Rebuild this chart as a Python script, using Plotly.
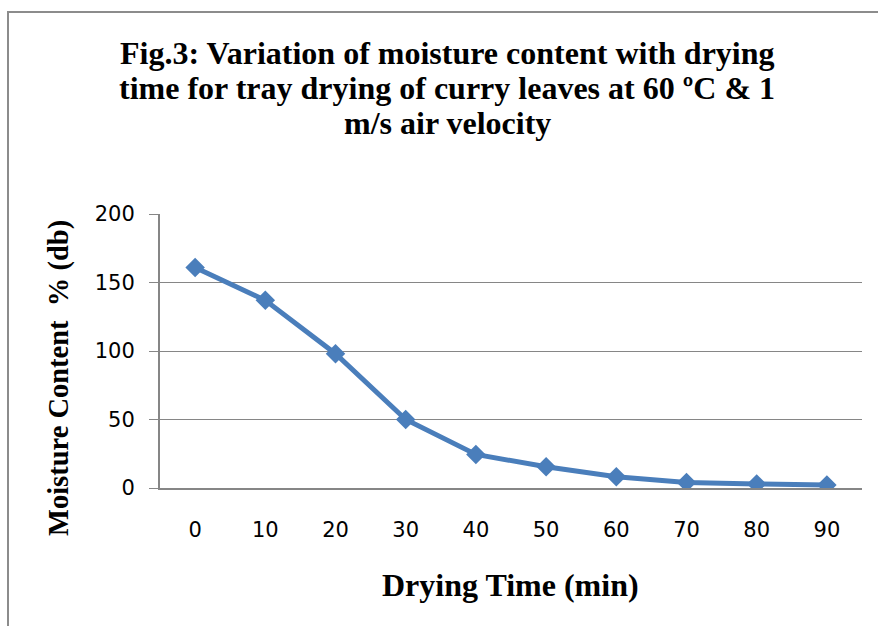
import plotly.graph_objects as go

# Data
drying_time = [0, 10, 20, 30, 40, 50, 60, 70, 80, 90]
moisture_content = [161, 137, 98, 50, 24.5, 15.5, 8.2, 4.0, 2.9, 2.2]
x_tick_labels = ["0", "10", "20", "30", "40", "50", "60", "70", "80", "90"]
y_tick_vals = [0, 50, 100, 150, 200]

title_lines = [
    "Fig.3: Variation of moisture content with drying",
    "time for tray drying of curry leaves at 60 ºC &amp; 1",
    "m/s air velocity",
]
x_title = "Drying Time (min)"
y_title = "Moisture Content  % (db)"

W, H = 878, 626
L, R, T, B = 160, 16, 214, 138
pw, ph = W - L - R, H - T - B

def px_x(p):
    return (p - L) / pw

def px_y(p):
    return (H - B - p) / ph

blue = "#4A7EBB"
gray = "#868686"

fig = go.Figure()
fig.add_trace(go.Scatter(
    x=drying_time, y=moisture_content, mode="lines+markers",
    line=dict(color=blue, width=5),
    marker=dict(symbol="diamond", size=15, color=blue),
    showlegend=False, hoverinfo="skip",
))

serif = "Liberation Serif, Times New Roman, serif"
sans = "DejaVu Sans, Verdana, sans-serif"

title_centers = [53, 88, 123]
annotations = []
for line, cy in zip(title_lines, title_centers):
    annotations.append(dict(
        text="<b>" + line + "</b>", x=px_x(447), y=px_y(cy),
        xref="paper", yref="paper", xanchor="center", yanchor="middle",
        showarrow=False, font=dict(family=serif, size=32, color="#000000")))
annotations.append(dict(
    text="<b>" + x_title + "</b>", x=px_x(510), y=px_y(585),
    xref="paper", yref="paper", xanchor="center", yanchor="middle",
    showarrow=False, font=dict(family=serif, size=32, color="#000000")))
annotations.append(dict(
    text="<b>" + y_title + "</b>", x=px_x(59), y=px_y(378),
    xref="paper", yref="paper", xanchor="center", yanchor="middle",
    textangle=-90,
    showarrow=False, font=dict(family=serif, size=28.5, color="#000000")))

fig.update_layout(
    width=W, height=H,
    margin=dict(l=L, r=R, t=T, b=B, pad=0),
    paper_bgcolor="white", plot_bgcolor="white",
    xaxis=dict(
        range=[-5, 95], tickvals=drying_time, ticktext=x_tick_labels,
        showgrid=False, zeroline=False, showline=True, linecolor=gray, linewidth=2,
        ticks="", ticklabelstandoff=22,
        tickfont=dict(family=sans, size=21, color="#000000"),
        fixedrange=True,
    ),
    yaxis=dict(
        range=[0, 200], tickvals=y_tick_vals,
        showgrid=True, gridcolor=gray, gridwidth=1,
        zeroline=False, showline=True, linecolor=gray, linewidth=2,
        ticks="outside", ticklen=9, tickcolor=gray, tickwidth=1,
        ticklabelstandoff=10,
        tickfont=dict(family=sans, size=21, color="#000000"),
        fixedrange=True,
    ),
    annotations=annotations,
    shapes=[
        dict(type="rect", xref="paper", yref="paper",
             x0=px_x(8), x1=px_x(890), y0=px_y(640), y1=px_y(12),
             line=dict(color="#8C8C8C", width=2), fillcolor="rgba(0,0,0,0)",
             layer="below"),
    ],
)

fig.write_html(
    "out.html",
    config={"displayModeBar": False, "staticPlot": True},
    post_script="document.body.style.margin='0';document.body.style.overflow='hidden';",
)
